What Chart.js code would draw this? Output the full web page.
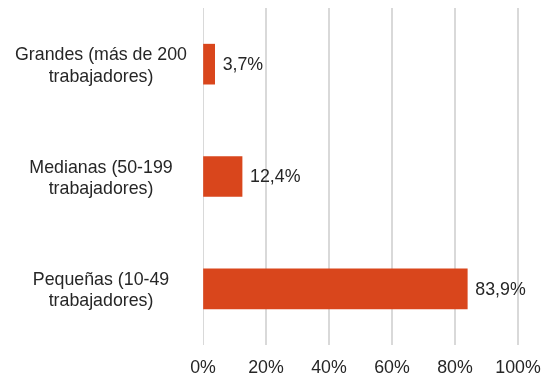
<!DOCTYPE html>
<html>
<head>
<meta charset="utf-8">
<script src="https://cdn.jsdelivr.net/npm/chart.js@4"></script>
<style>
  html, body { margin: 0; padding: 0; background: #fff; }
  #wrap { width: 545px; height: 378px; }
</style>
</head>
<body>
<div id="wrap"><canvas id="myChart" width="545" height="378"></canvas></div>
<script>
// company size groups and their share
var categories = [
  ["Grandes (más de 200", "trabajadores)"],
  ["Medianas (50-199", "trabajadores)"],
  ["Pequeñas (10-49", "trabajadores)"]
];
var shares = [3.7, 12.4, 83.9];
var xTicks = [0, 20, 40, 60, 80, 100];

var barColor = "#d9461c";
var textColor = "#262626";
var fontSize = 17.8;

function fmt(v) {
  return v.toFixed(1).replace(".", ",") + "%";
}

// value labels at the end of each bar
var valueLabels = {
  id: "valueLabels",
  afterDatasetsDraw: function (chart) {
    var ctx = chart.ctx;
    var meta = chart.getDatasetMeta(0);
    ctx.save();
    ctx.font = fontSize + "px 'Liberation Sans', Arial, sans-serif";
    ctx.fillStyle = textColor;
    ctx.textAlign = "left";
    ctx.textBaseline = "middle";
    meta.data.forEach(function (bar, i) {
      ctx.fillText(fmt(shares[i]), bar.x + 8, bar.y + 1);
    });
    ctx.restore();
  }
};

Chart.defaults.font.family = "'Liberation Sans', Arial, sans-serif";
Chart.defaults.font.size = fontSize;
Chart.defaults.color = textColor;

new Chart(document.getElementById("myChart"), {
  type: "bar",
  data: {
    labels: categories,
    datasets: [{
      data: shares,
      backgroundColor: barColor,
      barThickness: 40
    }]
  },
  options: {
    indexAxis: "y",
    responsive: false,
    animation: false,
    layout: { padding: { top: 8, right: 27, left: 0, bottom: 0 } },
    plugins: {
      legend: { display: false },
      tooltip: { enabled: false }
    },
    scales: {
      x: {
        min: 0,
        max: 100,
        afterBuildTicks: function (axis) {
          axis.ticks = xTicks.map(function (v) { return { value: v }; });
        },
        grid: {
          color: "#d9d9d9",
          lineWidth: function (c) { return c.index === 0 ? 1 : 2; },
          drawTicks: false
        },
        border: { display: false },
        ticks: {
          padding: 12,
          callback: function (v) { return v + "%"; }
        },
        afterFit: function (axis) {
          axis.height = 33;
          axis.paddingLeft = 0;
          axis.paddingRight = 0;
        }
      },
      y: {
        grid: { display: false },
        border: { display: false },
        ticks: { padding: 8, crossAlign: "center", labelOffset: 2 },
        // fixed label column, and no extra room for the two-line labels
        afterFit: function (axis) {
          axis.width = 203;
          axis.paddingTop = 0;
          axis.paddingBottom = 0;
        }
      }
    }
  },
  plugins: [valueLabels]
});
</script>
</body>
</html>
